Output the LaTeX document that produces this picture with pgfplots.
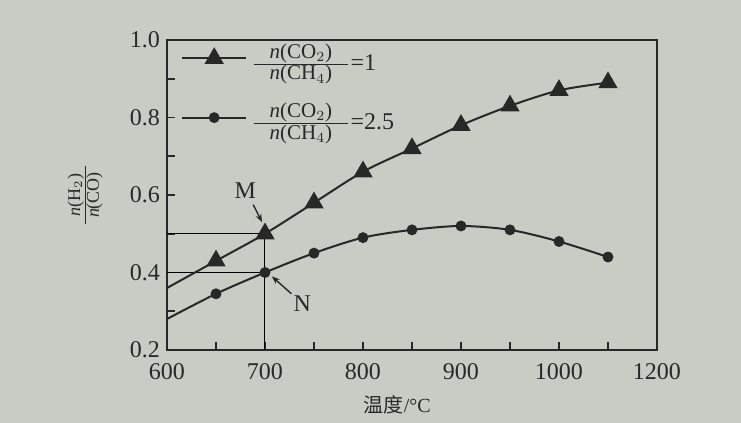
\documentclass[border=0pt]{standalone}
\usepackage{pgfplots}
\pgfplotsset{compat=1.18}
\usepackage{fontspec}
\setmainfont{Liberation Serif}
\newfontfamily\cjk{Noto Sans CJK SC}
\usetikzlibrary{arrows.meta}
\definecolor{bg}{RGB}{201,204,196}
\definecolor{ink}{RGB}{40,40,40}
\definecolor{thin}{RGB}{95,95,95}
\newcommand{\fr}[4]{$\frac{\mbox{\fontsize{#3}{#3}\selectfont\hspace{#4}#1\hspace{#4}}}{\mbox{\fontsize{#3}{#3}\selectfont\hspace{#4}#2\hspace{#4}}}$}
\begin{document}
\begin{tikzpicture}
\fill[bg] (-83.5pt,-36.5pt) rectangle (287pt,175pt);
\begin{axis}[
  scale only axis, width=245pt, height=155pt,
  xmin=600, xmax=1100, ymin=0.2, ymax=1.0,
  clip=false,
  axis line style={ink, line width=0.9pt},
  tick style={ink, line width=0.8pt},
  tick align=inside, tick pos=left,
  major tick length=4pt, minor tick length=4pt,
  xtick={600,700,800,900,1000,1100},
  xticklabels={600,700,800,900,1000,1200},
  minor xtick={650,750,850,950,1050},
  ytick={0.2,0.4,0.6,0.8,1.0},
  minor ytick={0.3,0.5,0.7,0.9},
  yticklabel style={/pgf/number format/.cd, fixed, fixed zerofill, precision=1},
  /pgf/number format/assume math mode=true,
  ticklabel style={font=\fontsize{12}{14}\selectfont, text=ink},
  xticklabel style={yshift=-3pt},
  xlabel={\cjk 温度\rmfamily/°C},
  xlabel style={at={(axis description cs:0.47,-0.177)}, anchor=center, font=\fontsize{10}{12}\selectfont, text=ink},
  ylabel={\fr{\textit{n}(H$_2$)}{\textit{n}(CO)}{9}{3pt}},
  ylabel style={at={(axis description cs:-0.167,0.5)}, anchor=center, font=\fontsize{11}{13}\selectfont, text=ink},
  legend cell align=left,
  legend style={draw=none, fill=none, at={(axis description cs:0.02,1.015)}, anchor=north west,
    font=\fontsize{12}{14}\selectfont, text=ink, row sep=11pt, inner sep=2pt},
  legend image code/.code={\draw[#1, mark=none] (0pt,0pt) -- (32pt,0pt); \path[#1, draw=none, mark indices={1}] plot coordinates {(16pt,0pt)};},
]
% reference lines
\addplot[thin, line width=0.5pt, forget plot] coordinates {(600,0.50) (700,0.50)};
\addplot[thin, line width=0.5pt, forget plot] coordinates {(600,0.40) (700,0.40)};
\addplot[thin, line width=0.5pt, forget plot] coordinates {(700,0.20) (700,0.50)};
% series
\addplot[ink, line width=1pt, smooth, mark=triangle*, mark size=4.6pt, mark indices={2,...,10},
  mark options={fill=ink, draw=ink}] coordinates {
  (600,0.36) (650,0.43) (700,0.50) (750,0.58) (800,0.66) (850,0.72)
  (900,0.78) (950,0.83) (1000,0.87) (1050,0.89)};
\addlegendentry{\fr{\textit{n}(CO$_2$)}{\textit{n}(CH$_4$)}{10.5}{8pt}=1}
\addplot[ink, line width=1pt, smooth, mark=*, mark size=2.2pt, mark indices={2,...,10},
  mark options={fill=ink, draw=ink}] coordinates {
  (600,0.28) (650,0.345) (700,0.40) (750,0.45) (800,0.49) (850,0.51)
  (900,0.52) (950,0.51) (1000,0.48) (1050,0.44)};
\addlegendentry{\fr{\textit{n}(CO$_2$)}{\textit{n}(CH$_4$)}{10.5}{8pt}=2.5}
% annotations
\node[text=ink, font=\fontsize{12}{14}\selectfont] at (axis cs:680,0.61) {M};
\draw[ink, line width=0.7pt, -{Stealth[length=4pt]}] (axis cs:688,0.575) -- (axis cs:697,0.53);
\node[text=ink, font=\fontsize{12}{14}\selectfont] at (axis cs:738,0.32) {N};
\draw[ink, line width=0.7pt, -{Stealth[length=4pt]}] (axis cs:727,0.345) -- (axis cs:707,0.39);
\end{axis}
\pgfresetboundingbox
\path (-83.5pt,-36.5pt) rectangle (287pt,175pt);
\end{tikzpicture}
\end{document}
